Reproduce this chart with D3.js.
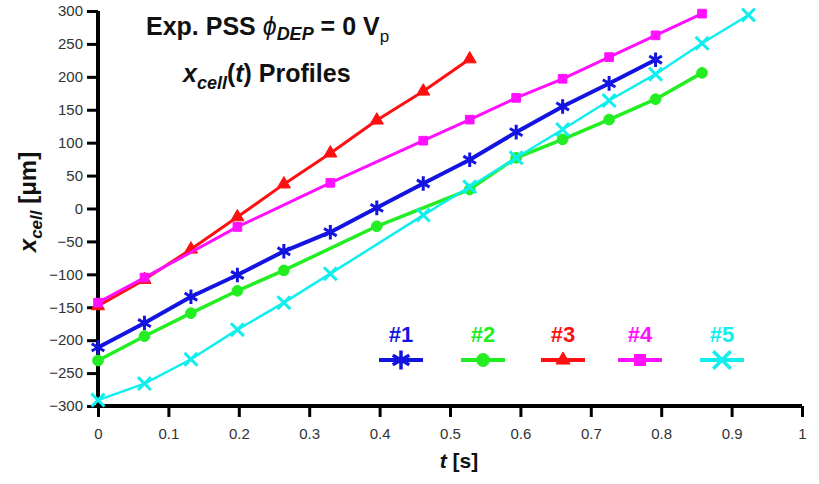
<!DOCTYPE html>
<html>
<head>
<meta charset="utf-8">
<script src="https://cdn.jsdelivr.net/npm/d3@7"></script>
<style>
  body { margin: 0; background: #fff; }
  text { font-family: "Liberation Sans", Arial, sans-serif; }
</style>
</head>
<body>
<svg id="chart" width="819" height="484"></svg>
<script>
// values (t in s, x_cell in um)
const t1 = [0, 0.066, 0.132, 0.198, 0.264, 0.33, 0.396, 0.462, 0.528, 0.594, 0.66, 0.726, 0.792];
const x1 = [-211, -174, -134, -101, -65, -36, 1, 38, 74, 116, 155, 190, 226];
const t2 = [0, 0.066, 0.132, 0.198, 0.264, 0.396, 0.528, 0.594, 0.66, 0.726, 0.792, 0.858];
const x2 = [-231, -194, -159, -125, -94, -27, 29, 77, 105, 135, 166, 206];
const t3 = [0, 0.066, 0.132, 0.198, 0.264, 0.33, 0.396, 0.462, 0.528];
const x3 = [-148, -108, -62, -13, 37, 84, 134, 178, 227];
const t4 = [0, 0.066, 0.198, 0.33, 0.462, 0.528, 0.594, 0.66, 0.726, 0.792, 0.858];
const x4 = [-143, -105, -28, 39, 103, 135, 168, 197, 230, 263, 296];
const t5 = [0, 0.066, 0.132, 0.198, 0.264, 0.33, 0.462, 0.528, 0.594, 0.66, 0.726, 0.792, 0.858, 0.924];
const x5 = [-291, -266, -229, -184, -143, -99, -10, 33, 77, 120, 164, 204, 251, 294];

const seriesNames = ["#1", "#2", "#3", "#4", "#5"];
const seriesColors = ["#1414e0", "#22ee22", "#ff1010", "#ff10ff", "#10eeee"];
const xTicks = [0, 0.1, 0.2, 0.3, 0.4, 0.5, 0.6, 0.7, 0.8, 0.9, 1];
const yTicks = [-300, -250, -200, -150, -100, -50, 0, 50, 100, 150, 200, 250, 300];

const svg = d3.select("#chart");

const x = d3.scaleLinear().domain([0, 1]).range([98, 802]);
const y = d3.scaleLinear().domain([-300, 300]).range([406, 11]);

// axes
const yAxis = svg.append("g")
    .attr("transform", "translate(" + x(0) + ",0)")
    .call(d3.axisLeft(y).tickValues(yTicks).tickSize(11).tickPadding(4).tickFormat(d3.format("d")));
const xAxis = svg.append("g")
    .attr("transform", "translate(0," + y(-300) + ")")
    .call(d3.axisBottom(x).tickValues(xTicks).tickSize(11).tickPadding(11).tickFormat(d => d === 0 || d === 1 ? d : d.toFixed(1)));

[xAxis, yAxis].forEach(a => {
  a.select(".domain").attr("stroke", "#000").attr("stroke-width", 4);
  a.selectAll(".tick line").attr("stroke", "#000").attr("stroke-width", 3);
  a.selectAll(".tick text").attr("fill", "#333").attr("font-size", 15)
    .attr("font-family", "Liberation Sans, Arial, sans-serif");
});
// plain axis lines without the outer ticks
yAxis.select(".domain").attr("d", "M0," + y(300) + "V" + (y(-300) + 2));
xAxis.select(".domain").attr("d", "M" + (x(0) - 2) + ",0H" + x(1));

const series = [
  { t: t1, v: x1, sym: d3.symbolAsterisk, size: 150, leg: 260, width: 4, filled: false },
  { t: t2, v: x2, sym: d3.symbolCircle, size: 90, leg: 130, width: 3.5, filled: true },
  { t: t3, v: x3, sym: d3.symbolTriangle, size: 75, leg: 85, width: 3, filled: true },
  { t: t4, v: x4, sym: d3.symbolSquare, size: 75, leg: 120, width: 3, filled: true },
  { t: t5, v: x5, sym: d3.symbolX, size: 110, leg: 200, width: 2.5, filled: false }
];

const line = d3.line().x(d => x(d[0])).y(d => y(d[1]));

series.forEach((s, i) => {
  const pts = s.t.map((t, j) => [t, s.v[j]]);
  const g = svg.append("g");
  g.append("path").datum(pts)
    .attr("d", line)
    .attr("fill", "none")
    .attr("stroke", seriesColors[i])
    .attr("stroke-width", s.width)
    .attr("stroke-linejoin", "round");
  g.selectAll("path.m").data(pts).join("path")
    .attr("class", "m")
    .attr("transform", d => "translate(" + x(d[0]) + "," + y(d[1]) + ")")
    .attr("d", d3.symbol(s.sym, s.size))
    .attr("fill", s.filled ? seriesColors[i] : "none")
    .attr("stroke", seriesColors[i])
    .attr("stroke-width", s.filled ? 1 : 3);
});

// legend
const legX = [401, 483, 563, 640, 722];
series.forEach((s, i) => {
  const g = svg.append("g").attr("transform", "translate(" + legX[i] + ",0)");
  g.append("text")
    .attr("y", 342)
    .attr("text-anchor", "middle")
    .attr("font-size", 22)
    .attr("font-weight", "bold")
    .attr("fill", seriesColors[i])
    .text(seriesNames[i]);
  g.append("line")
    .attr("x1", -22).attr("x2", 22)
    .attr("y1", 360).attr("y2", 360)
    .attr("stroke", seriesColors[i])
    .attr("stroke-width", 4);
  g.append("path")
    .attr("transform", "translate(0,360)")
    .attr("d", d3.symbol(s.sym, s.leg))
    .attr("fill", s.filled ? seriesColors[i] : "none")
    .attr("stroke", seriesColors[i])
    .attr("stroke-width", s.filled ? 1 : 3.5);
});

// title
const title = svg.append("text")
  .attr("x", 146).attr("y", 35)
  .attr("font-size", 25).attr("font-weight", "bold").attr("fill", "#111");
title.append("tspan").text("Exp. PSS ");
title.append("tspan").attr("font-style", "italic").attr("font-weight", "normal").text("\u03D5");
title.append("tspan").attr("font-style", "italic").attr("font-size", 18).attr("dy", 5).text("DEP");
title.append("tspan").attr("dy", -5).text(" = 0 V");
title.append("tspan").attr("font-weight", "normal").attr("font-size", 17).attr("dy", 7).text("p");

const sub = svg.append("text")
  .attr("x", 183).attr("y", 82)
  .attr("font-size", 25).attr("font-weight", "bold").attr("fill", "#111");
sub.append("tspan").attr("font-style", "italic").text("x");
sub.append("tspan").attr("font-style", "italic").attr("font-size", 18).attr("dy", 7).text("cell");
sub.append("tspan").attr("dy", -7).text("(");
sub.append("tspan").attr("font-style", "italic").text("t");
sub.append("tspan").text(") Profiles");

// axis titles
const yl = svg.append("text")
  .attr("transform", "translate(36,202) rotate(-90)")
  .attr("text-anchor", "middle")
  .attr("font-size", 24).attr("font-weight", "bold").attr("fill", "#111");
yl.append("tspan").attr("font-style", "italic").text("x");
yl.append("tspan").attr("font-style", "italic").attr("font-size", 17).attr("dy", 6).text("cell");
yl.append("tspan").attr("dy", -6).text(" [\u03BCm]");

const xl = svg.append("text")
  .attr("x", 459).attr("y", 468)
  .attr("text-anchor", "middle")
  .attr("font-size", 21).attr("font-weight", "bold").attr("fill", "#111");
xl.append("tspan").attr("font-style", "italic").text("t");
xl.append("tspan").text(" [s]");
</script>
</body>
</html>
